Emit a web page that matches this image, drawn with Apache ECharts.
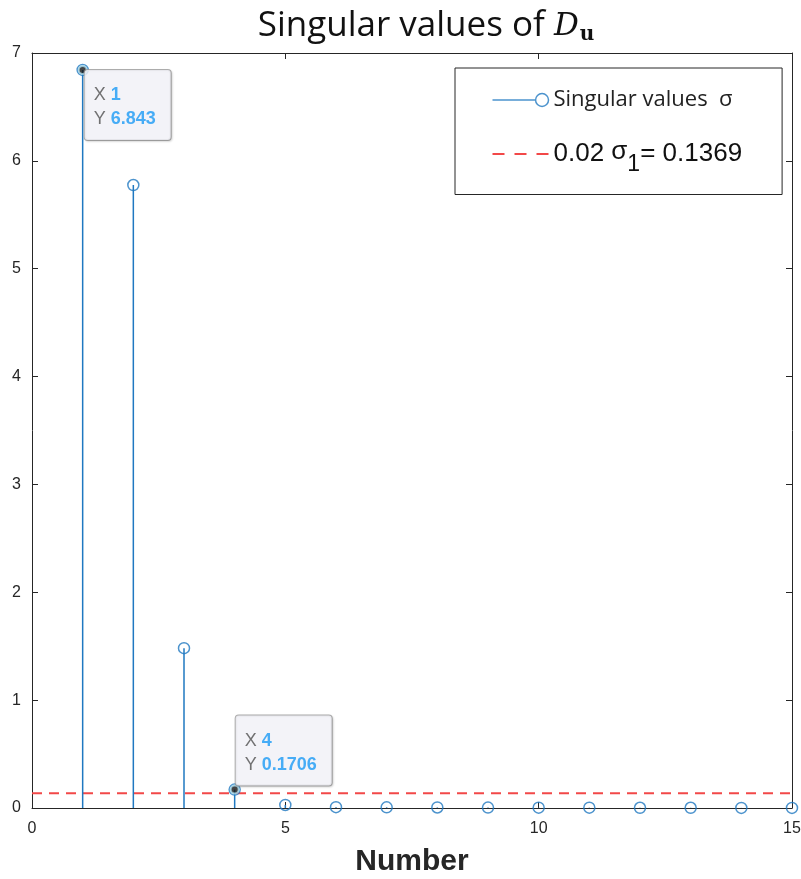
<!DOCTYPE html>
<html>
<head>
<meta charset="utf-8">
<script src="https://cdn.jsdelivr.net/npm/echarts@6/dist/echarts.min.js"></script>
<style>html,body{margin:0;padding:0;background:#fff;overflow:hidden;}#c{width:801px;height:879px;}</style>
</head>
<body>
<div id="c"></div>
<script>
// ---- data ----
const indices = [1, 2, 3, 4, 5, 6, 7, 8, 9, 10, 11, 12, 13, 14, 15];
const singularValues = [6.843, 5.776, 1.482, 0.1706, 0.028, 0.008, 0.006, 0.005, 0.004, 0.003, 0.003, 0.002, 0.002, 0.001, 0.0005];
const threshold = 0.1369;
const thresholdX = [0, 15];
const tipIndices = [1, 4];
const xTicks = [0, 5, 10, 15];
const yTicks = [0, 1, 2, 3, 4, 5, 6, 7];

const BLUE = '#1f78c1';
const RED = '#f24848';
const AX = '#262626';
const pts = indices.map((x, i) => [x, singularValues[i]]);
const tipPts = tipIndices.map(x => [x, singularValues[indices.indexOf(x)]]);

const chart = echarts.init(document.getElementById('c'), null, {renderer: 'canvas', width: 801, height: 879});
const tickFont = {fontFamily: 'Liberation Sans', fontSize: 16, color: AX};

const option = {
  backgroundColor: '#fff',
  animation: false,
  title: {
    text: '{a|Singular values of }{d|D}{u|u}',
    left: 421, textAlign: 'center', top: 3,
    textStyle: {
      fontWeight: 'normal',
      rich: {
        a: {fontFamily: 'Open Sans', fontWeight: 'normal', fontSize: 35, color: '#111'},
        d: {fontFamily: 'DejaVu Serif', fontStyle: 'italic', fontWeight: 'normal', fontSize: 31, color: '#111'},
        u: {fontFamily: 'DejaVu Serif', fontWeight: 'bold', fontSize: 20, color: '#111', padding: [17, 0, 0, 1]}
      }
    }
  },
  grid: {left: 32, right: 9, top: 53, bottom: 71, containLabel: false, outerBoundsMode: 'none'},
  legend: {
    orient: 'vertical', left: 455, top: 68,
    padding: [21, 40, 18, 35], itemGap: 28,
    itemWidth: 56, itemHeight: 14,
    backgroundColor: '#fff', borderColor: AX, borderWidth: 1,
    data: [
      {name: 'sv', icon: 'path://M0,6 L40,6 M52,6 A6,6 0 1 1 40,6 A6,6 0 1 1 52,6',
       itemStyle: {color: 'none', borderColor: BLUE, borderWidth: 1.5}},
      {name: 'thr', itemStyle: {color: 'rgba(0,0,0,0)', borderWidth: 0, opacity: 0},
       lineStyle: {color: RED, width: 1.8, type: [12, 10]}}
    ],
    formatter: function (name) {
      if (name === 'sv') return '{t|Singular values  σ}';
      return '{b|0.02 }{s|σ}{sub|1}{b|= 0.1369}';
    },
    textStyle: {
      rich: {
        t: {fontFamily: 'Open Sans', fontSize: 22, color: '#222'},
        b: {fontFamily: 'Liberation Sans', fontSize: 26, color: '#111'},
        s: {fontFamily: 'Liberation Sans', fontSize: 26, color: '#111', padding: [0, 0, 4, 0]},
        sub: {fontFamily: 'Liberation Sans', fontSize: 23, color: '#111', padding: [22, 0, 0, 0]}
      }
    }
  },
  xAxis: [{
    type: 'value', min: 0, max: 15, interval: 5, position: 'bottom',
    name: 'Number', nameLocation: 'middle', nameGap: 39,
    nameTextStyle: {fontFamily: 'Liberation Sans', fontSize: 30, fontWeight: 'bold', color: AX},
    axisLine: {show: true, onZero: false, lineStyle: {color: AX, width: 1}},
    axisTick: {show: true, inside: true, length: 6, lineStyle: {color: AX}},
    axisLabel: Object.assign({margin: 13, formatter: v => xTicks.includes(v) ? String(v) : ''}, tickFont),
    splitLine: {show: false}
  }, {
    type: 'value', min: 0, max: 15, interval: 5, position: 'top',
    axisLine: {show: true, onZero: false, lineStyle: {color: AX, width: 1}},
    axisTick: {show: true, inside: true, length: 6, lineStyle: {color: AX}},
    axisLabel: {show: false}, splitLine: {show: false}
  }],
  yAxis: [{
    type: 'value', min: 0, max: 7, interval: 1, position: 'left',
    axisLine: {show: true, onZero: false, lineStyle: {color: AX, width: 1}},
    axisTick: {show: true, inside: true, length: 6, lineStyle: {color: AX}},
    axisLabel: Object.assign({margin: 11, formatter: v => yTicks.includes(v) ? String(v) : ''}, tickFont),
    splitLine: {show: false}
  }, {
    type: 'value', min: 0, max: 7, interval: 1, position: 'right',
    axisLine: {show: true, onZero: false, lineStyle: {color: AX, width: 1}},
    axisTick: {show: true, inside: true, length: 6, lineStyle: {color: AX}},
    axisLabel: {show: false}, splitLine: {show: false}
  }],
  series: [
    {
      name: 'thr', type: 'line', symbol: 'none', z: 3,
      data: thresholdX.map(x => [x, threshold]),
      lineStyle: {color: RED, width: 1.8, type: [10, 7]},
      itemStyle: {color: RED}
    },
    {
      name: 'stems', type: 'custom', z: 4,
      data: pts,
      renderItem: function (params, api) {
        const p0 = api.coord([api.value(0), 0]);
        const p1 = api.coord([api.value(0), api.value(1)]);
        return {type: 'line', shape: {x1: p0[0], y1: p0[1], x2: p1[0], y2: p1[1]},
                style: {stroke: BLUE, lineWidth: 1.5}};
      }
    },
    {
      name: 'sv', type: 'scatter', z: 5,
      data: pts, symbol: 'circle', symbolSize: 11,
      itemStyle: {color: 'rgba(0,0,0,0)', borderColor: BLUE, borderWidth: 1.5}
    },
    {
      name: 'tips', type: 'scatter', z: 6,
      symbol: 'circle', symbolSize: 8,
      itemStyle: {color: '#151515', borderColor: '#a8d8ea', borderWidth: 2},
      data: tipPts.map((p, i) => ({
        value: p,
        label: i === 0 ? {position: [7, 5], align: 'left', verticalAlign: 'top'}
                       : {position: [6, 1], align: 'left', verticalAlign: 'bottom'}
      })),
      label: {
        show: true,
        formatter: p => '{k|X }{v|' + p.value[0] + '}\n{k|Y }{v|' + p.value[1] + '}',
        backgroundColor: '#f8f8fe', borderColor: '#9a9a9a', borderWidth: 1, borderRadius: 3,
        padding: [13, 15, 9, 9],
        shadowColor: 'rgba(0,0,0,0.15)', shadowBlur: 2, shadowOffsetX: 1, shadowOffsetY: 1,
        rich: {
          k: {fontFamily: 'Liberation Sans', fontSize: 18, color: '#505050', lineHeight: 24},
          v: {fontFamily: 'Liberation Sans', fontSize: 18, fontWeight: 'bold', color: '#1a9af5', lineHeight: 24}
        }
      }
    }
  ]
};
chart.setOption(option);
</script>
</body>
</html>
